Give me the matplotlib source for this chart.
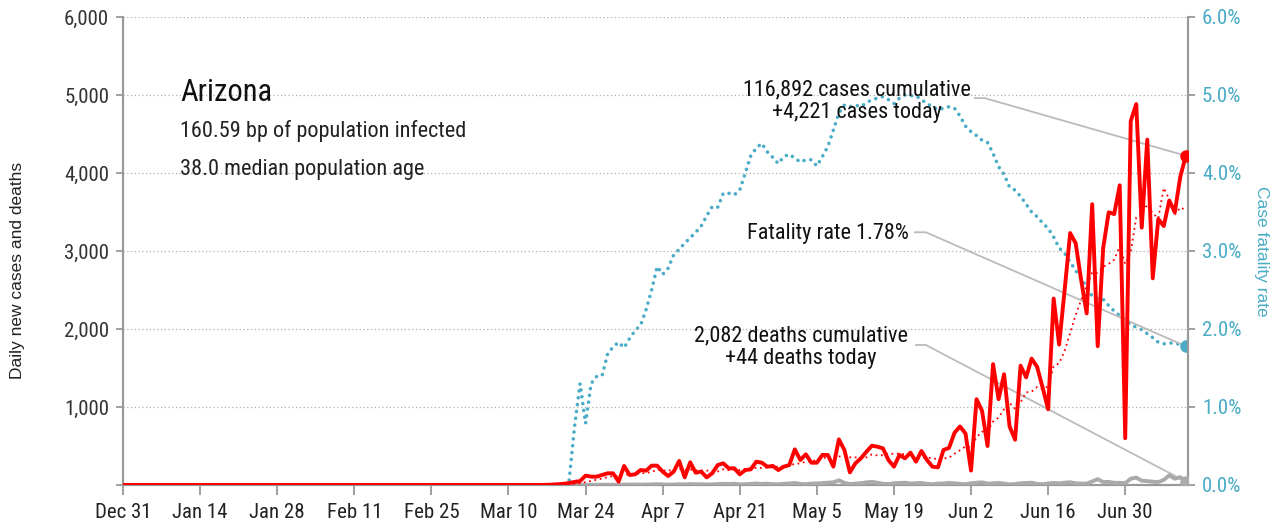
import matplotlib.pyplot as plt
import matplotlib.dates as mdates
import numpy as np
import pandas as pd

# daily series from Dec 31, 2019 to Jul 11, 2020
dates = pd.date_range('2019-12-31', periods=194)

# daily new cases (earlier days are zero)
cases_tail = [2, 5, 10, 15, 25, 40, 50, 120, 107, 107, 128, 150, 150, 43, 244, 128, 137, 192,
              184, 248, 248, 171, 115, 171, 308, 98, 291, 158, 171, 98, 150, 256, 278, 214, 214,
              137, 192, 201, 299, 286, 235, 244, 192, 235, 256, 457, 320, 393, 286, 286, 385,
              385, 235, 585, 449, 162, 278, 342, 427, 504, 491, 470, 320, 235, 385, 342, 415,
              299, 436, 320, 235, 226, 450, 475, 670, 750, 660, 185, 1100, 950, 500, 1550, 1100,
              1420, 750, 580, 1530, 1380, 1620, 1515, 1250, 970, 2390, 1800, 2500, 3230, 3100,
              2628, 2200, 3600, 1780, 3040, 3496, 3474, 3842, 600, 4666, 4884, 3300, 4428, 2650,
              3410, 3320, 3647, 3496, 3951, 4221]

# daily new deaths
deaths_tail = [1, 0, 0, 1, 2, 3, 2, 4, 3, 4, 2, 6, 5, 7, 4, 6, 8, 10, 7, 5, 6, 10, 8, 12, 9,
               10, 6, 8, 12, 15, 13, 17, 8, 10, 15, 19, 14, 17, 11, 9, 16, 20, 26, 14, 10, 18,
               20, 24, 30, 34, 60, 28, 12, 18, 24, 34, 40, 30, 16, 12, 22, 26, 30, 18, 24, 26,
               14, 10, 18, 20, 26, 22, 14, 10, 22, 30, 34, 18, 22, 26, 18, 8, 12, 22, 26, 30,
               14, 10, 20, 26, 22, 30, 35, 22, 18, 18, 45, 75, 38, 40, 28, 28, 24, 80, 95, 55,
               50, 42, 38, 65, 125, 80, 100, 44]

# case fatality rate, percent
cfr_tail = [0.05, 0.75, 1.30, 0.79, 1.30, 1.39, 1.40, 1.68, 1.77, 1.83, 1.76, 1.88, 1.98, 2.05,
            2.25, 2.50, 2.80, 2.70, 2.78, 2.95, 3.02, 3.10, 3.17, 3.24, 3.32, 3.45, 3.57, 3.56,
            3.74, 3.74, 3.72, 3.78, 4.00, 4.22, 4.32, 4.38, 4.27, 4.20, 4.12, 4.21, 4.24, 4.19,
            4.14, 4.17, 4.17, 4.09, 4.21, 4.34, 4.55, 4.77, 4.87, 4.85, 4.87, 4.85, 4.90, 4.94,
            4.96, 4.98, 4.94, 4.89, 4.96, 5.00, 4.99, 4.99, 4.94, 4.89, 4.85, 4.81, 4.83, 4.85,
            4.83, 4.73, 4.60, 4.53, 4.48, 4.42, 4.39, 4.25, 4.08, 3.98, 3.82, 3.78, 3.70, 3.60,
            3.50, 3.44, 3.36, 3.29, 3.18, 3.04, 2.97, 2.86, 2.75, 2.65, 2.54, 2.42, 2.39, 2.38,
            2.30, 2.23, 2.17, 2.11, 2.06, 2.02, 1.99, 1.94, 1.89, 1.83, 1.81, 1.82, 1.82, 1.80,
            1.78]

n = len(dates)
cases = np.concatenate([np.zeros(n - len(cases_tail)), cases_tail])
deaths = np.concatenate([np.zeros(n - len(deaths_tail)), deaths_tail])
cfr = np.concatenate([np.zeros(n - len(cfr_tail)), cfr_tail])
cases_avg = pd.Series(cases).rolling(7).mean().values

state = 'Arizona'
infected_text = '160.59 bp of population infected'
age_text = '38.0 median population age'
cases_text = '116,892 cases cumulative\n+4,221 cases today'
deaths_text = '2,082 deaths cumulative\n+44 deaths today'
fatal_text = 'Fatality rate 1.78%'

RED = '#ff0000'
TEAL = '#4aacc6'
GREY = '#aaaaaa'
AXC = '#999999'
NARROW = ['Roboto Condensed', 'DejaVu Sans']
PLAIN = ['Liberation Sans', 'DejaVu Sans']

x = mdates.date2num(dates)
x0 = x[0]

fig = plt.figure(figsize=(12.83, 5.24), dpi=100)
ax = fig.add_axes([123 / 1283, 1 - 485 / 524, 1065 / 1283, 468 / 524])
ax2 = ax.twinx()
ax.set_zorder(ax2.get_zorder() + 1)
ax.patch.set_visible(False)

# lines
ax2.plot(x, cfr, color=TEAL, lw=2.6, ls=(0, (0.01, 1.9)), dash_capstyle='round')
ax.plot(x, deaths, color=GREY, lw=2.8, zorder=3)
ax.plot(x, cases_avg, color=RED, lw=1.3, ls=(0, (1, 2)), zorder=3)
ax.plot(x, cases, color=RED, lw=2.8, zorder=4)

# end markers
ax.plot(x[-1], cases[-1], 'o', color=RED, ms=8, zorder=5)
ax.plot(x[-1], deaths[-1], 'o', color=GREY, ms=8, zorder=5)
ax2.plot(x[-1], cfr[-1], 'o', color=TEAL, ms=8, zorder=5)

# axes
ax.set_xlim(x0, x[-1] + 0.4)
ax.set_ylim(0, 6000)
ax2.set_ylim(0, 6)

ticks = mdates.date2num(pd.date_range('2019-12-31', '2020-06-30', freq='14D'))
ax.set_xticks(ticks)
ax.set_xticklabels([mdates.num2date(t).strftime('%b %-d') for t in ticks])
ax.set_yticks(range(0, 7000, 1000))
ax.set_yticklabels([''] + ['{:,}'.format(v) for v in range(1000, 7000, 1000)])
ax2.set_yticks(range(0, 7))
ax2.set_yticklabels(['{:.1f}%'.format(v) for v in range(0, 7)])

ax.yaxis.grid(True, ls=(0, (1, 2)), color='#b0b0b0', lw=0.9)
ax.set_axisbelow(True)

for a in (ax, ax2):
    a.spines['top'].set_visible(False)
    for s in ('left', 'right', 'bottom'):
        a.spines[s].set_color(AXC)
        a.spines[s].set_linewidth(1.5)

ax.tick_params(axis='x', length=7, width=1.3, color=AXC, pad=6, labelsize=15, labelcolor='#222222')
ax.tick_params(axis='y', length=5, width=1.3, color=AXC, pad=5, labelsize=15, labelcolor='#333333')
ax2.tick_params(axis='y', length=5, width=1.3, color=AXC, pad=5, labelsize=15, labelcolor=TEAL)
for lab in ax.get_xticklabels() + ax.get_yticklabels() + ax2.get_yticklabels():
    lab.set_family(NARROW)

fig.text(18 / 1283, 1 - 270 / 524, 'Daily new cases and deaths', rotation=90, ha='center',
         va='center', fontsize=12.5, color='#222222', family=PLAIN)
fig.text(1262 / 1283, 1 - 251 / 524, 'Case fatality rate', rotation=270, ha='center',
         va='center', fontsize=12.5, color=TEAL, family=PLAIN)

# state info
ax.text(x0 + 10.4, 5030, state, fontsize=22, ha='left', va='center', family=NARROW, color='#111111')
ax.text(x0 + 10.4, 4540, infected_text, fontsize=16, ha='left', va='center', family=NARROW, color='#222222')
ax.text(x0 + 10.4, 4040, age_text, fontsize=16, ha='left', va='center', family=NARROW, color='#222222')

# annotations with connectors
ax.text(x0 + 133.3, 4920, cases_text, fontsize=16, ha='center', va='center', family=NARROW,
        linespacing=1.05, color='#111111')
ax.plot([x0 + 154.7, x0 + 156.5, x[-1]], [4960, 4960, cases[-1]], color='#bbbbbb', lw=1.3, zorder=2)

ax.text(x0 + 142.7, 3230, fatal_text, fontsize=16, ha='right', va='center', family=NARROW, color='#111111')
ax2.plot([x0 + 143.8, x0 + 145.8, x[-1]], [3.24, 3.24, cfr[-1]], color='#bbbbbb', lw=1.3, zorder=2)

ax.text(x0 + 123.1, 1765, deaths_text, fontsize=16, ha='center', va='center', family=NARROW,
        linespacing=1.05, color='#111111')
ax.plot([x0 + 144.0, x0 + 145.8, x[-1]], [1795, 1795, deaths[-1]], color='#bbbbbb', lw=1.3, zorder=2)

fig.savefig('out.png', dpi=100)
